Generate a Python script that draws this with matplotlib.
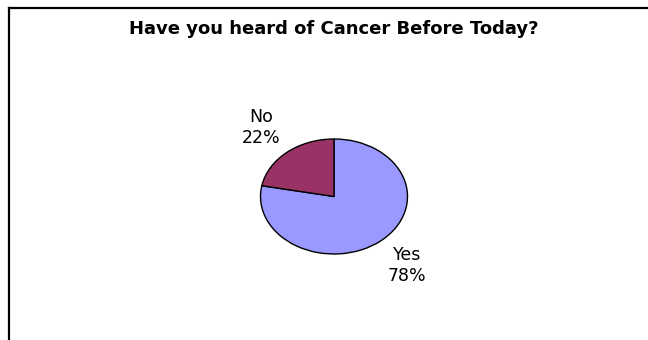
import matplotlib
matplotlib.use('Agg')
import matplotlib.pyplot as plt
from matplotlib.lines import Line2D

title = 'Have you heard of Cancer Before Today?'
answers = ['Yes', 'No']
percents = [78, 22]
colors = ['#9999FF', '#993366']

W, H = 648, 340
fig = plt.figure(figsize=(W / 100, H / 100), dpi=100)
fig.patch.set_facecolor('white')

# chart area border (left and top only are visible)
fig.add_artist(Line2D([9 / W, 9 / W], [0, 1 - 8 / H], color='black', lw=1.6))
fig.add_artist(Line2D([9 / W, 1], [1 - 8 / H, 1 - 8 / H], color='black', lw=1.6))

fig.text(334 / W, 1 - 29 / H, title, ha='center', va='center',
         fontsize=13, fontweight='bold', family='DejaVu Sans')

# pie is drawn slightly squashed, as in the original
cx, cy, rx, ry = 334, 196.5, 73.5, 57.5
ax = fig.add_axes([(cx - rx) / W, 1 - (cy + ry) / H, 2 * rx / W, 2 * ry / H])
labels = [f'{a}\n{p}%' for a, p in zip(answers, percents)]
wedges, texts = ax.pie(percents, labels=labels, colors=colors, startangle=90,
                       counterclock=False, labeldistance=1.56,
                       wedgeprops=dict(edgecolor='black', linewidth=1.0),
                       textprops=dict(fontsize=12.5, family='DejaVu Sans',
                                      linespacing=1.2))
for t in texts:
    t.set_ha('center')
    t.set_va('center')
    t.set_clip_on(False)
ax.set_aspect('auto')
ax.set_xlim(-1, 1)
ax.set_ylim(-1, 1)
ax.axis('off')

fig.savefig('out.png', dpi=100)
